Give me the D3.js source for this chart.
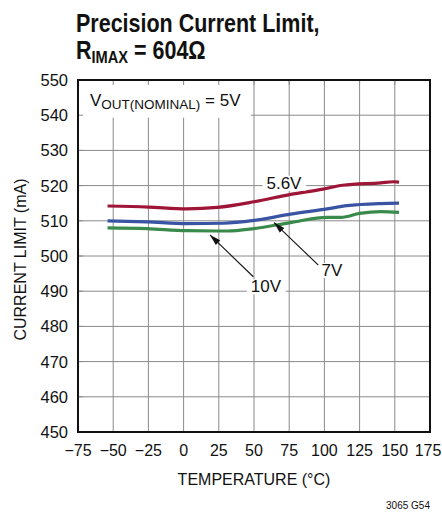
<!DOCTYPE html>
<html>
<head>
<meta charset="utf-8">
<script src="https://cdn.jsdelivr.net/npm/d3@7"></script>
<style>
  body { margin: 0; background: #fff; }
  text { font-family: "Liberation Sans", Arial, sans-serif; fill: #111; }
  .grid line { stroke: #8a8a8a; stroke-width: 1; }
</style>
</head>
<body>
<div id="chart"></div>
<script>
// temperatura (°C) e corrente limite (mA)
var temp56 = [-54, -25, 2, 24, 50, 76, 99, 113, 140, 149, 153];
var cur56  = [514.2, 513.9, 513.4, 513.8, 515.4, 517.5, 519.0, 520.1, 520.8, 521.1, 521.0];
var temp7  = [-54, -26, 2, 28, 50, 76, 102, 116, 140, 153];
var cur7   = [510.0, 509.7, 509.2, 509.3, 510.1, 511.9, 513.4, 514.3, 514.9, 515.0];
var temp10 = [-54, -26, 2, 31, 50, 76, 102, 112, 125, 140, 153];
var cur10  = [508.0, 507.8, 507.2, 507.1, 507.8, 509.5, 511.0, 511.0, 512.1, 512.6, 512.4];
var xTicks = [-75, -50, -25, 0, 25, 50, 75, 100, 125, 150, 175];
var yTicks = [450, 460, 470, 480, 490, 500, 510, 520, 530, 540, 550];

var series = [
  {nome: '5.6V', t: temp56, v: cur56, cor: '#9e1538'},
  {nome: '7V',   t: temp7,  v: cur7,  cor: '#3a54a4'},
  {nome: '10V',  t: temp10, v: cur10, cor: '#3a8a4c'}
];

var width = 442, height = 515;
var margin = {top: 80, right: 12, bottom: 83, left: 78};
var plotWidth = width - margin.left - margin.right;
var plotHeight = height - margin.top - margin.bottom;

var svg = d3.select('#chart').append('svg').attr('width', width).attr('height', height);

// título (condensado)
var title = svg.append('g').attr('transform', 'translate(76,0) scale(0.86,1)');
title.append('text').attr('x', 0).attr('y', 32).attr('font-size', 25).attr('font-weight', 'bold')
  .text('Precision Current Limit,');
var t2 = title.append('text').attr('x', 0).attr('y', 59).attr('font-size', 25).attr('font-weight', 'bold');
t2.append('tspan').text('R');
t2.append('tspan').attr('font-size', 17).attr('dy', 4).text('IMAX');
t2.append('tspan').attr('dy', -4).text(' = 604Ω');

var xs = d3.scaleLinear().domain([-75, 175]).range([0, plotWidth]);
var ys = d3.scaleLinear().domain([450, 550]).range([plotHeight, 0]);

var plotArea = svg.append('g').attr('transform', 'translate(' + margin.left + ',' + margin.top + ')');

// grade
var grid = plotArea.append('g').attr('class', 'grid');
grid.selectAll('.gx').data(xTicks).enter().append('line')
  .attr('x1', function(d){ return xs(d); }).attr('x2', function(d){ return xs(d); })
  .attr('y1', 0).attr('y2', plotHeight);
grid.selectAll('.gy').data(yTicks).enter().append('line')
  .attr('x1', 0).attr('x2', plotWidth)
  .attr('y1', function(d){ return ys(d); }).attr('y2', function(d){ return ys(d); });

// caixa branca da legenda V_OUT
plotArea.append('rect').attr('x', 0).attr('y', 0)
  .attr('width', xs(45) + 4).attr('height', ys(539.3)).attr('fill', '#fff');
// pequenos ticks internos nas bordas
plotArea.selectAll('.tt').data(xTicks).enter().append('line')
  .attr('x1', function(d){ return xs(d); }).attr('x2', function(d){ return xs(d); })
  .attr('y1', 0).attr('y2', 5).attr('stroke', '#8a8a8a');
plotArea.selectAll('.tl').data(yTicks).enter().append('line')
  .attr('x1', 0).attr('x2', 5)
  .attr('y1', function(d){ return ys(d); }).attr('y2', function(d){ return ys(d); })
  .attr('stroke', '#8a8a8a');

var vt = plotArea.append('text').attr('x', 12).attr('y', 26).attr('font-size', 17);
vt.append('tspan').text('V');
vt.append('tspan').attr('font-size', 13.5).attr('dy', 3).text('OUT(NOMINAL)');
vt.append('tspan').attr('dy', -3).text(' = 5V');

// curvas
var line = d3.line().curve(d3.curveMonotoneX)
  .x(function(d){ return xs(d[0]); })
  .y(function(d){ return ys(d[1]); });

plotArea.selectAll('path.serie').data(series).enter().append('path')
  .attr('class', 'serie')
  .attr('fill', 'none')
  .attr('stroke', function(d){ return d.cor; })
  .attr('stroke-width', 3.2)
  .attr('d', function(d){ return line(d3.zip(d.t, d.v)); });

// rótulos com fundo branco e setas
svg.append('defs').append('marker').attr('id', 'seta')
  .attr('viewBox', '0 0 14 10').attr('refX', 14).attr('refY', 5)
  .attr('markerWidth', 12).attr('markerHeight', 8).attr('markerUnits', 'userSpaceOnUse')
  .attr('orient', 'auto')
  .append('path').attr('d', 'M0,1 L14,5 L0,9 Z').attr('fill', '#111');

function rotulo(txt, t, v){
  var g = plotArea.append('g');
  var el = g.append('text').attr('x', xs(t)).attr('y', ys(v)).attr('font-size', 17)
    .attr('text-anchor', 'middle').attr('dominant-baseline', 'central').text(txt);
  var b = el.node().getBBox();
  g.insert('rect', 'text').attr('x', b.x - 4).attr('y', b.y + 2).attr('width', b.width + 8)
    .attr('height', b.height - 4).attr('fill', '#fff');
}
rotulo('5.6V', 71.3, 520.7);
rotulo('7V', 105.4, 495.9);
rotulo('10V', 58.5, 491.2);

function seta(t0, v0, t1, v1){
  plotArea.append('line')
    .attr('x1', xs(t0)).attr('y1', ys(v0)).attr('x2', xs(t1)).attr('y2', ys(v1))
    .attr('stroke', '#111').attr('stroke-width', 1.1).attr('marker-end', 'url(#seta)');
}
seta(49.5, 494.1, 18.75, 506.0);
seta(95.7, 497.4, 64.2, 509.5);

// borda
plotArea.append('rect').attr('width', plotWidth).attr('height', plotHeight)
  .attr('fill', 'none').attr('stroke', '#111').attr('stroke-width', 2);

// rótulos dos eixos
svg.append('g').selectAll('text').data(yTicks).enter().append('text')
  .attr('x', margin.left - 10).attr('y', function(d){ return margin.top + ys(d); })
  .attr('dy', '0.36em').attr('text-anchor', 'end').attr('font-size', 16.5)
  .text(function(d){ return d; });
svg.append('g').selectAll('text').data(xTicks).enter().append('text')
  .attr('x', function(d, i){ return margin.left + xs(d) + (i === xTicks.length - 1 ? -2 : 0); })
  .attr('y', 456)
  .attr('text-anchor', 'middle').attr('font-size', 16)
  .text(function(d){ return d < 0 ? '\u2212' + Math.abs(d) : d; });

svg.append('text').attr('x', margin.left + xs(50)).attr('y', 485)
  .attr('text-anchor', 'middle').attr('font-size', 16).text('TEMPERATURE (°C)');
svg.append('text').attr('transform', 'translate(26,' + (margin.top + ys(499)) + ') rotate(-90)')
  .attr('text-anchor', 'middle').attr('font-size', 16).text('CURRENT LIMIT (mA)');
svg.append('text').attr('x', 430).attr('y', 509).attr('text-anchor', 'end')
  .attr('font-size', 10).text('3065 G54');
</script>
</body>
</html>
